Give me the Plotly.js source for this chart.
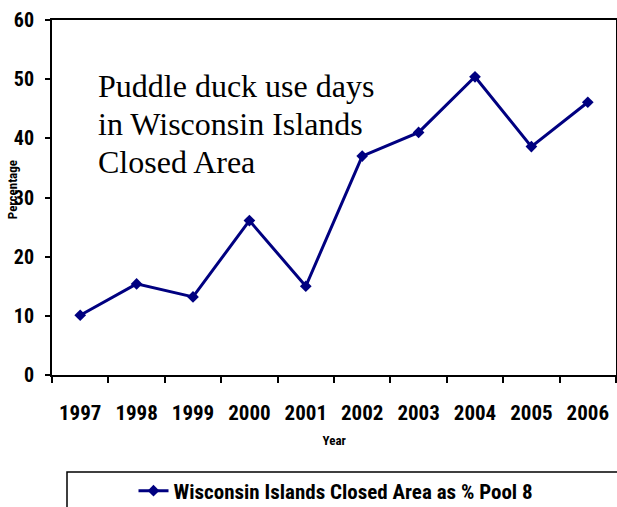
<!DOCTYPE html>
<html>
<head>
<meta charset="utf-8">
<script src="https://cdn.plot.ly/plotly-3.0.1.min.js"></script>
<style>
  html, body { margin: 0; padding: 0; background: #ffffff; }
  #chart { width: 617px; height: 507px; }
  /* narrow sans for ticks, legend and axis titles (Roboto's width axis) */
  #chart text { font-stretch: 75%; }
</style>
</head>
<body>
<div id="chart"></div>
<script>
// Puddle duck use days in the Wisconsin Islands Closed Area, as a percentage of Pool 8
const years = ['1997', '1998', '1999', '2000', '2001', '2002', '2003', '2004', '2005', '2006'];
const pctOfPool8 = [10.1, 15.4, 13.2, 26.1, 15.0, 37.0, 41.0, 50.4, 38.6, 46.1];
const yTicks = [0, 10, 20, 30, 40, 50, 60];
const seriesName = 'Wisconsin Islands Closed Area as % Pool 8';
const noteLines = ['Puddle duck use days', 'in Wisconsin Islands', 'Closed Area'];

const NAVY = '#000080';
const narrow = "Roboto, 'Liberation Sans', Arial, sans-serif";
const serif = "'Liberation Serif', 'Times New Roman', serif";

const trace = {
  type: 'scatter',
  mode: 'lines+markers',
  x: years,
  y: pctOfPool8,
  name: seriesName,
  line: { color: NAVY, width: 3 },
  marker: { symbol: 'diamond', size: 9, color: NAVY }
};

// note text, one annotation per line
const noteY = [(375 - 86) / 355, (375 - 124) / 355, (375 - 162) / 355];
const notes = noteLines.map((t, i) => ({
  xref: 'paper', yref: 'paper',
  x: 0.078, y: noteY[i],
  xanchor: 'left', yanchor: 'middle',
  text: t, showarrow: false,
  font: { family: serif, size: 32, color: '#000000' }
}));

const layout = {
  width: 617,
  height: 507,
  margin: { l: 52, r: 1, t: 20, b: 132, autoexpand: false },
  paper_bgcolor: '#ffffff',
  plot_bgcolor: '#ffffff',
  showlegend: true,
  legend: {
    orientation: 'h',
    x: (358 - 52) / 564, xanchor: 'center',
    y: (375 - 491) / 355, yanchor: 'middle',
    bgcolor: 'rgba(0,0,0,0)',
    font: { family: narrow, size: 21, color: '#000000', weight: 'bold' }
  },
  xaxis: {
    type: 'category',
    range: [-0.5, 9.5],
    showgrid: false,
    zeroline: false,
    showline: true, mirror: true,
    linecolor: '#000000', linewidth: 2,
    ticks: 'outside', tickson: 'boundaries',
    ticklen: 6, tickwidth: 2, tickcolor: '#000000',
    tickangle: 0,
    ticklabelstandoff: 18,
    tickfont: { family: narrow, size: 21, color: '#000000', weight: 'bold' }
  },
  yaxis: {
    range: [0, 60],
    tickvals: yTicks,
    showgrid: false,
    zeroline: false,
    showline: true, mirror: true,
    linecolor: '#000000', linewidth: 2,
    ticks: 'outside', ticklen: 5, tickwidth: 2, tickcolor: '#000000',
    ticklabelstandoff: 7,
    tickfont: { family: narrow, size: 20, color: '#000000', weight: 'bold' }
  },
  annotations: notes.concat([
    {
      xref: 'paper', yref: 'paper',
      x: (12 - 52) / 564, y: (375 - 190) / 355,
      xanchor: 'center', yanchor: 'middle',
      text: 'Percentage', textangle: -90, showarrow: false,
      font: { family: narrow, size: 13, color: '#000000', weight: 'bold' }
    },
    {
      xref: 'paper', yref: 'paper',
      x: (334 - 52) / 564, y: (375 - 440) / 355,
      xanchor: 'center', yanchor: 'middle',
      text: 'Year', showarrow: false,
      font: { family: narrow, size: 13, color: '#000000', weight: 'bold' }
    }
  ]),
  shapes: [
    {
      // legend frame, running off the bottom-right edge
      type: 'rect', xref: 'paper', yref: 'paper',
      x0: (67 - 52) / 564, x1: 1.02,
      y0: (375 - 472) / 355, y1: -0.42,
      line: { color: '#000000', width: 1.5 },
      fillcolor: 'rgba(0,0,0,0)'
    }
  ]
};

Plotly.newPlot('chart', [trace], layout, { displayModeBar: false, staticPlot: true });
</script>
</body>
</html>
